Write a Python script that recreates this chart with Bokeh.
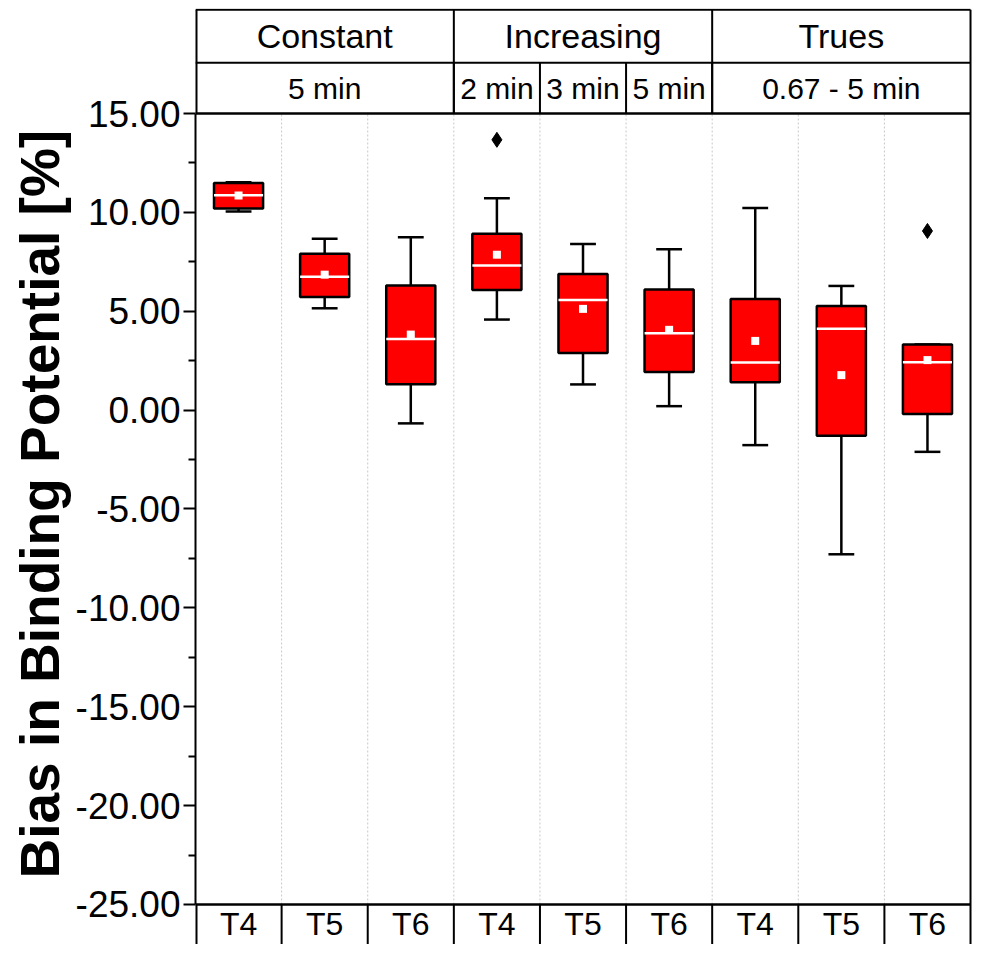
from bokeh.plotting import figure
from bokeh.models import Range1d, FixedTicker, NumeralTickFormatter, ColumnDataSource, Title
from bokeh.embed import file_html
from bokeh.resources import INLINE
from bokeh.core.properties import value

# ---------------- data ----------------
groups = ["Constant", "Increasing", "Trues"]
group_sizes = [3, 3, 3]
durations = ["5 min", "2 min", "3 min", "5 min", "0.67 - 5 min"]
duration_spans = [3, 1, 1, 1, 3]
categories = ["T4", "T5", "T6", "T4", "T5", "T6", "T4", "T5", "T6"]

whisker_low = [10.05, 5.15, -0.67, 4.58, 1.30, 0.20, -1.77, -7.29, -2.11]
q1 = [10.19, 5.72, 1.31, 6.08, 2.89, 1.93, 1.41, -1.30, -0.20]
median = [10.87, 6.75, 3.60, 7.31, 5.57, 3.89, 2.41, 4.11, 2.42]
mean = [10.85, 6.85, 3.82, 7.86, 5.12, 4.06, 3.50, 1.77, 2.53]
q3 = [11.48, 7.91, 6.30, 8.92, 6.88, 6.10, 5.62, 5.27, 3.32]
whisker_high = [11.52, 8.67, 8.74, 10.72, 8.40, 8.13, 10.22, 6.28, 3.32]
outlier_cat = [3, 8]
outlier_val = [13.67, 9.06]

y_ticks = [-25, -20, -15, -10, -5, 0, 5, 10, 15]
y_minor = [-22.5, -17.5, -12.5, -7.5, -2.5, 2.5, 7.5, 12.5]
y_title = "Bias in Binding Potential [%]"

# ---------------- layout constants ----------------
FONT = "Liberation Sans"
Y_MIN, Y_MAX = y_ticks[0], y_ticks[-1]
HEADER_MID = 17.564
HEADER_TOP = 20.244
Y_LO, Y_HI = -27.023, 20.31
N = len(categories)
BOX_W = 0.57
CAP_W = 0.30

xs = [i + 0.5 for i in range(N)]

p = figure(width=972, height=944,
           x_range=Range1d(0, N + 0.023), y_range=Range1d(Y_LO, Y_HI),
           output_backend="svg", toolbar_location=None, x_axis_location=None,
           min_border_left=195, min_border_right=0, min_border_top=8, min_border_bottom=0)
p.outline_line_color = None
p.xgrid.visible = False
p.ygrid.visible = False
p.background_fill_color = "white"
p.border_fill_color = "white"

# y axis
ax = p.yaxis[0]
ax.ticker = FixedTicker(ticks=y_ticks, minor_ticks=y_minor)
ax.formatter = NumeralTickFormatter(format="0.00")
ax.bounds = (Y_MIN, Y_MAX)
ax.major_label_text_font = FONT
ax.major_label_text_font_size = "37px"
ax.major_label_text_color = "black"
ax.major_label_standoff = 3
ax.axis_line_width = 2
ax.axis_line_color = "black"
ax.major_tick_out = 12
ax.major_tick_in = 0
ax.minor_tick_out = 7
ax.minor_tick_in = 0
ax.major_tick_line_width = 2
ax.minor_tick_line_width = 2

# y axis title, placed as a side title so it can sit on the value range
p.add_layout(Title(text=y_title, align="left", offset=66, standoff=4,
                   text_font=FONT, text_font_style="bold", text_font_size="55px",
                   text_color="black"), "left")

# dotted separators in plot region
bounds = list(range(1, N))
p.segment(x0=bounds, y0=[Y_MIN] * len(bounds), x1=bounds, y1=[Y_MAX] * len(bounds),
          line_color="#c8c8c8", line_width=1, line_dash="2 2")

# whiskers and caps
src = ColumnDataSource(dict(x=xs, lo=whisker_low, q1=q1, med=median, mean=mean, q3=q3, hi=whisker_high,
                            cl=[x - CAP_W / 2 for x in xs], cr=[x + CAP_W / 2 for x in xs],
                            bl=[x - BOX_W / 2 for x in xs], br=[x + BOX_W / 2 for x in xs]))
p.segment(x0="x", y0="q3", x1="x", y1="hi", source=src, line_color="black", line_width=2.5)
p.segment(x0="x", y0="q1", x1="x", y1="lo", source=src, line_color="black", line_width=2.5)
p.segment(x0="cl", y0="hi", x1="cr", y1="hi", source=src, line_color="black", line_width=2.5)
p.segment(x0="cl", y0="lo", x1="cr", y1="lo", source=src, line_color="black", line_width=2.5)
# boxes
p.quad(left="bl", right="br", bottom="q1", top="q3", source=src,
       fill_color="#ff0000", line_color="black", line_width=2.5)
# median
p.segment(x0="bl", y0="med", x1="br", y1="med", source=src, line_color="white", line_width=2.5)
# mean
p.scatter(x="x", y="mean", source=src, marker="square", size=8, fill_color="white", line_color=None)
# outliers
p.scatter(x=[xs[i] for i in outlier_cat], y=outlier_val, marker="diamond", size=15,
          fill_color="black", line_color="black")

# ---------------- header / footer table ----------------
LW = 2
# horizontal lines
p.segment(x0=[0, 0, 0, 0], y0=[HEADER_TOP, HEADER_MID, Y_MAX, Y_MIN],
          x1=[N, N, N, N], y1=[HEADER_TOP, HEADER_MID, Y_MAX, Y_MIN],
          line_color="black", line_width=[LW, LW, 2.5, 2.5])
# left border (frame edge, so drawn wider to stay 2px visible) and right border
p.segment(x0=[0, 0], y0=[Y_LO, Y_MAX], x1=[0, 0], y1=[Y_MIN, HEADER_TOP],
          line_color="black", line_width=4)
p.segment(x0=[N], y0=[Y_LO], x1=[N], y1=[HEADER_TOP], line_color="black", line_width=LW)
# group dividers (both header rows)
gedges = []
acc = 0
for s in group_sizes[:-1]:
    acc += s
    gedges.append(acc)
p.segment(x0=gedges, y0=[Y_MAX] * len(gedges), x1=gedges, y1=[HEADER_TOP] * len(gedges),
          line_color="black", line_width=LW)
# duration dividers (second row)
dedges = []
acc = 0
for s in duration_spans[:-1]:
    acc += s
    dedges.append(acc)
p.segment(x0=dedges, y0=[Y_MAX] * len(dedges), x1=dedges, y1=[HEADER_MID] * len(dedges),
          line_color="black", line_width=LW)
# category dividers (bottom row)
p.segment(x0=bounds, y0=[Y_MIN] * len(bounds), x1=bounds, y1=[Y_LO] * len(bounds),
          line_color="black", line_width=LW)

# texts
gx = []
acc = 0
for s in group_sizes:
    gx.append(acc + s / 2)
    acc += s
p.text(x=gx, y=[(HEADER_MID + HEADER_TOP) / 2] * len(gx), text=groups,
       text_font=value(FONT), text_font_size="34px", text_align="center", text_baseline="middle",
       text_color="black")
dx = []
acc = 0
for s in duration_spans:
    dx.append(acc + s / 2)
    acc += s
p.text(x=dx, y=[(HEADER_MID + Y_MAX) / 2] * len(dx), text=durations,
       text_font=value(FONT), text_font_size="30px", text_align="center", text_baseline="middle",
       text_color="black")
p.text(x=xs, y=[-26.0] * N, text=categories,
       text_font=value(FONT), text_font_size="32px", text_align="center", text_baseline="middle",
       text_color="black")

open("out.html", "w").write(file_html(p, INLINE))
